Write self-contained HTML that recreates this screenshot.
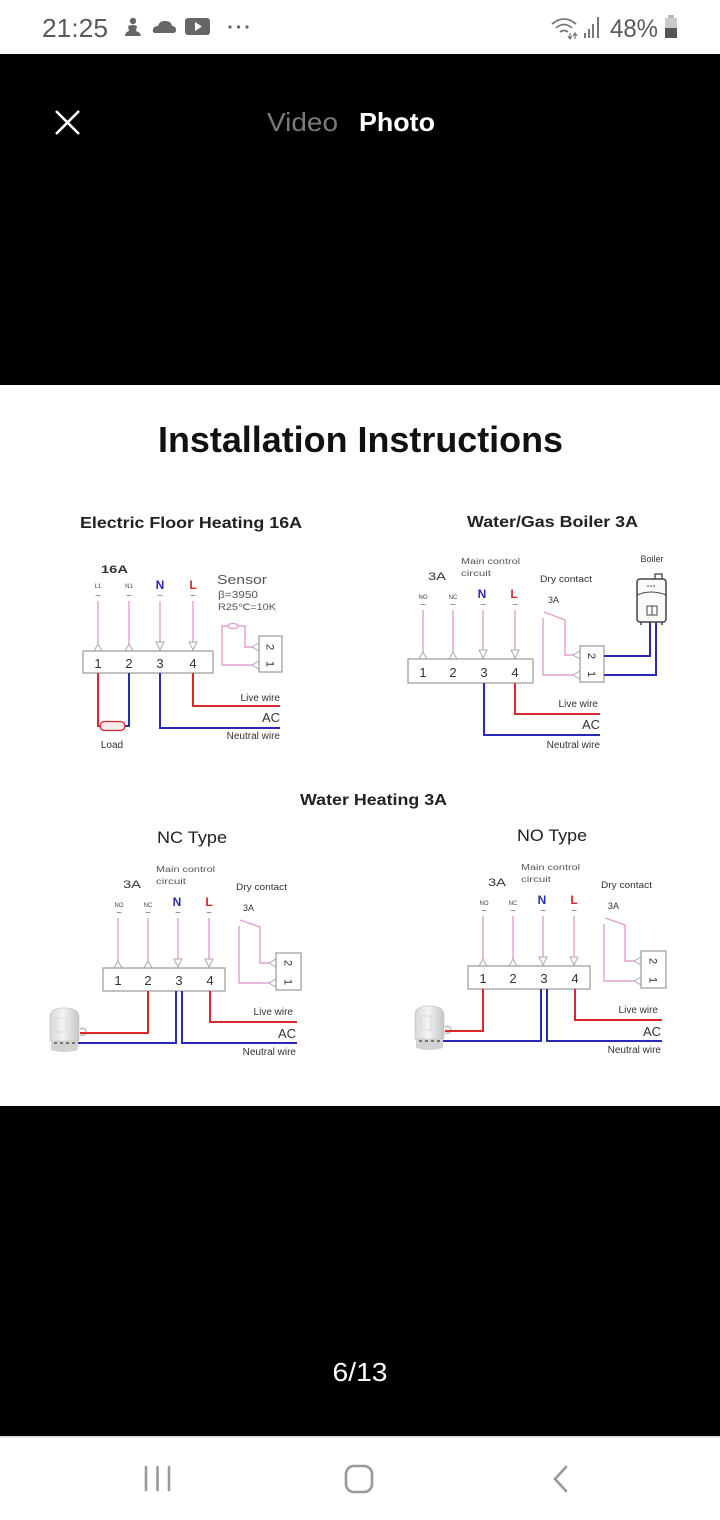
<!DOCTYPE html>
<html><head><meta charset="utf-8"><style>
html,body{margin:0;padding:0;background:#fff;}
svg{display:block;}
</style></head><body>
<svg width="720" height="1520" viewBox="0 0 720 1520" xmlns="http://www.w3.org/2000/svg" font-family="'Liberation Sans', Arial, sans-serif">
<defs>
<linearGradient id="act" x1="0" y1="0" x2="1" y2="0">
<stop offset="0" stop-color="#d8d8d8"/><stop offset="0.45" stop-color="#f4f4f4"/><stop offset="1" stop-color="#c4c4c4"/>
</linearGradient>
</defs>
<!-- status bar -->
<rect x="0" y="0" width="720" height="54" fill="#fff"/>
<text x="42" y="37" font-size="26" fill="#5a5a5a" textLength="66" lengthAdjust="spacingAndGlyphs">21:25</text>
<!-- person icon -->
<g fill="#666">
<circle cx="133" cy="21" r="3.2"/>
<path d="M128 26 Q133 24 137 26 L136 31 Q140 32 141 36 H125 Q125 32 129 31 Z"/>
</g>
<!-- cloud -->
<path d="M155 33 Q152 33 153 29 Q154 26 158 26 Q160 20 166 21 Q171 21 172 26 Q176 26 176 30 Q176 33 173 33 Z" fill="#666"/>
<!-- youtube -->
<rect x="185" y="18" width="25" height="17" rx="3" fill="#666"/>
<path d="M195 22 L202 26.5 L195 31 Z" fill="#fff"/>
<circle cx="230" cy="27" r="1.6" fill="#666"/><circle cx="238.5" cy="27" r="1.6" fill="#666"/><circle cx="247" cy="27" r="1.6" fill="#666"/>
<!-- wifi -->
<g fill="none" stroke="#777" stroke-width="1.8">
<path d="M552 24 Q564 14 576 24"/><path d="M556 28 Q564 21 572 28"/><path d="M560 32 Q564 29 568 32"/>
</g>
<path d="M570 33 V39 M568 36 L570 39 L572 36 M575 39 V33 M573 36 L575 33 L577 36" stroke="#777" stroke-width="1.2" fill="none"/>
<rect x="584" y="33" width="2" height="5" fill="#777"/><rect x="588" y="29" width="2" height="9" fill="#777"/><rect x="592" y="24" width="2" height="14" fill="#777"/><rect x="597" y="17" width="2" height="21" fill="#777"/>
<text x="610" y="37" font-size="25" fill="#5a5a5a" textLength="48" lengthAdjust="spacingAndGlyphs">48%</text>
<rect x="668" y="15" width="6" height="3" fill="#bbb"/>
<rect x="665" y="18" width="12" height="10" fill="#c8c8c8"/>
<rect x="665" y="28" width="12" height="10" fill="#555"/>

<!-- black top -->
<rect x="0" y="54" width="720" height="331" fill="#000"/>
<path d="M56 111 L79 134 M79 111 L56 134" stroke="#fff" stroke-width="2.6"/>
<text x="267" y="131" font-size="26" fill="#7a7a7a" textLength="71" lengthAdjust="spacingAndGlyphs">Video</text>
<text x="359" y="131" font-size="26" font-weight="bold" fill="#fff" textLength="76" lengthAdjust="spacingAndGlyphs">Photo</text>

<!-- white image -->
<rect x="0" y="385" width="720" height="721" fill="#fff"/>
<text x="158" y="452" font-size="36" font-weight="bold" fill="#111" textLength="405" lengthAdjust="spacingAndGlyphs">Installation Instructions</text>

<!-- ============ Diagram 1 ============ -->
<text x="80" y="528" font-size="16" font-weight="bold" fill="#222" textLength="222" lengthAdjust="spacingAndGlyphs">Electric Floor Heating 16A</text>
<text x="101" y="573" font-size="11" font-weight="bold" fill="#333" textLength="27" lengthAdjust="spacingAndGlyphs">16A</text>
<g font-size="6" fill="#444" text-anchor="middle">
<text x="98" y="588">L1</text><text x="129" y="588">N1</text>
</g>
<text x="160" y="589" font-size="12" font-weight="bold" fill="#2a2ab5" text-anchor="middle">N</text>
<text x="193" y="589" font-size="12" font-weight="bold" fill="#d62a2a" text-anchor="middle">L</text>
<g font-size="10" fill="#666" text-anchor="middle">
<text x="98" y="599">~</text><text x="129" y="599">~</text><text x="160" y="599">~</text><text x="193" y="599">~</text>
</g>
<g stroke="#e39fd3" stroke-width="1.4">
<line x1="98" y1="601" x2="98" y2="645"/><line x1="129" y1="601" x2="129" y2="645"/>
<line x1="160" y1="601" x2="160" y2="642"/><line x1="193" y1="601" x2="193" y2="642"/>
</g>
<g fill="#fff" stroke="#aaa" stroke-width="1">
<polygon points="94,651 98,644 102,651"/><polygon points="125,651 129,644 133,651"/>
<polygon points="156,642 164,642 160,650"/><polygon points="189,642 197,642 193,650"/>
</g>
<rect x="83" y="651" width="130" height="22" fill="#fff" stroke="#999" stroke-width="1.2"/>
<g font-size="13" fill="#333" text-anchor="middle">
<text x="98" y="668">1</text><text x="129" y="668">2</text><text x="160" y="668">3</text><text x="193" y="668">4</text>
</g>
<g fill="none" stroke-width="2">
<path d="M98 673 V726 H100" stroke="#d62a2a"/>
<path d="M129 673 V726 H125" stroke="#2a2ab5"/>
<path d="M160 673 V728 H280" stroke="#2a2ab5"/>
<path d="M193 673 V706 H280" stroke="#d62a2a"/>
</g>
<rect x="100" y="721.5" width="25" height="9" rx="4.5" fill="#fbeaea" stroke="#d62a2a" stroke-width="1.3"/>
<text x="112" y="748" font-size="10" fill="#333" text-anchor="middle">Load</text>
<g fill="#333" text-anchor="end">
<text x="280" y="701" font-size="10">Live wire</text>
<text x="280" y="722" font-size="13">AC</text>
<text x="280" y="739" font-size="10">Neutral wire</text>
</g>
<text x="217" y="584" font-size="13" fill="#555" textLength="50" lengthAdjust="spacingAndGlyphs">Sensor</text>
<text x="218" y="598" font-size="10" fill="#555" textLength="40" lengthAdjust="spacingAndGlyphs">β=3950</text>
<text x="218" y="610" font-size="9" fill="#555" textLength="58" lengthAdjust="spacingAndGlyphs">R25℃=10K</text>
<g fill="none" stroke="#e39fd3" stroke-width="1.4">
<path d="M228 626 H222 V665 H253"/>
<path d="M238 626 H245 V647 H253"/>
<ellipse cx="233" cy="626" rx="5" ry="2.6" fill="#fff"/>
</g>
<g fill="#fff" stroke="#aaa" stroke-width="1">
<polygon points="252,647 259,643 259,651"/><polygon points="252,665 259,661 259,669"/>
</g>
<rect x="259" y="636" width="23" height="36" fill="#fff" stroke="#999" stroke-width="1.2"/>
<g font-size="11" fill="#333" text-anchor="middle">
<text transform="translate(270.5 647) rotate(90)" y="4">2</text>
<text transform="translate(270.5 664) rotate(90)" y="4">1</text>
</g>

<!-- ============ Diagram 2 ============ -->
<text x="467" y="527" font-size="16" font-weight="bold" fill="#222" textLength="171" lengthAdjust="spacingAndGlyphs">Water/Gas Boiler 3A</text>
<text x="461" y="564" font-size="8" fill="#555" textLength="59" lengthAdjust="spacingAndGlyphs">Main control</text>
<text x="461" y="576" font-size="8" fill="#555" textLength="30" lengthAdjust="spacingAndGlyphs">circuit</text>
<text x="428" y="580" font-size="11" fill="#333" textLength="18" lengthAdjust="spacingAndGlyphs">3A</text>
<g font-size="6" fill="#444" text-anchor="middle">
<text x="423" y="599">NO</text><text x="453" y="599">NC</text>
</g>
<text x="482" y="598" font-size="12" font-weight="bold" fill="#2a2ab5" text-anchor="middle">N</text>
<text x="514" y="598" font-size="12" font-weight="bold" fill="#d62a2a" text-anchor="middle">L</text>
<g font-size="10" fill="#666" text-anchor="middle">
<text x="423" y="608">~</text><text x="453" y="608">~</text><text x="483" y="608">~</text><text x="515" y="608">~</text>
</g>
<g stroke="#e39fd3" stroke-width="1.4">
<line x1="423" y1="610" x2="423" y2="652"/><line x1="453" y1="610" x2="453" y2="652"/>
<line x1="483" y1="610" x2="483" y2="650"/><line x1="515" y1="610" x2="515" y2="650"/>
</g>
<g fill="#fff" stroke="#aaa" stroke-width="1">
<polygon points="419,659 423,652 427,659"/><polygon points="449,659 453,652 457,659"/>
<polygon points="479,650 487,650 483,658"/><polygon points="511,650 519,650 515,658"/>
</g>
<rect x="408" y="659" width="125" height="24" fill="#fff" stroke="#999" stroke-width="1.2"/>
<g font-size="13" fill="#333" text-anchor="middle">
<text x="423" y="677">1</text><text x="453" y="677">2</text><text x="484" y="677">3</text><text x="515" y="677">4</text>
</g>
<g fill="none" stroke-width="2">
<path d="M484 683 V735 H600" stroke="#2a2ab5"/>
<path d="M515 683 V714 H600" stroke="#d62a2a"/>
</g>
<g fill="#333" text-anchor="end">
<text x="598" y="707" font-size="10">Live wire</text>
<text x="600" y="729" font-size="13">AC</text>
<text x="600" y="748" font-size="10">Neutral wire</text>
</g>
<text x="540" y="582" font-size="9" fill="#333" textLength="52" lengthAdjust="spacingAndGlyphs">Dry contact</text>
<text x="548" y="603" font-size="9" fill="#333">3A</text>
<g fill="none" stroke="#e39fd3" stroke-width="1.4">
<path d="M544 612 L565 620 V655 H573"/>
<path d="M543 618 V675 H573"/>
</g>
<g fill="#fff" stroke="#aaa" stroke-width="1">
<polygon points="573,655 580,651 580,659"/><polygon points="573,675 580,671 580,679"/>
</g>
<rect x="580" y="646" width="24" height="36" fill="#fff" stroke="#999" stroke-width="1.2"/>
<g font-size="11" fill="#333" text-anchor="middle">
<text transform="translate(592 656) rotate(90)" y="4">2</text>
<text transform="translate(592 674) rotate(90)" y="4">1</text>
</g>
<g fill="none" stroke="#2a2ab5" stroke-width="2">
<path d="M604 656 H650 V622"/>
<path d="M604 675 H656 V622"/>
</g>
<text x="652" y="562" font-size="9" fill="#333" text-anchor="middle">Boiler</text>
<rect x="655" y="574" width="7" height="6" fill="#fff" stroke="#444" stroke-width="1.3"/>
<rect x="637" y="579" width="29" height="43" rx="3" fill="#fafafa" stroke="#444" stroke-width="1.5"/>
<path d="M637 595 Q651 589 666 595" stroke="#444" stroke-width="1" fill="none"/>
<circle cx="648" cy="586" r="0.8" fill="#444"/><circle cx="651" cy="586" r="0.8" fill="#444"/><circle cx="654" cy="586" r="0.8" fill="#444"/>
<rect x="647" y="606" width="10" height="9" fill="#fff" stroke="#444" stroke-width="1"/>
<line x1="652" y1="606" x2="652" y2="615" stroke="#444" stroke-width="1"/>
<path d="M641 622 V625 M662 622 V625" stroke="#444" stroke-width="1.5"/>

<!-- ============ Water Heating ============ -->
<text x="300" y="805" font-size="16" font-weight="bold" fill="#222" textLength="147" lengthAdjust="spacingAndGlyphs">Water Heating 3A</text>

<!-- Diagram 3 NC -->
<text x="157" y="843" font-size="17" fill="#222" textLength="70" lengthAdjust="spacingAndGlyphs">NC Type</text>
<g id="d3">
<text x="156" y="872" font-size="8" fill="#555" textLength="59" lengthAdjust="spacingAndGlyphs">Main control</text>
<text x="156" y="884" font-size="8" fill="#555" textLength="30" lengthAdjust="spacingAndGlyphs">circuit</text>
<text x="123" y="888" font-size="11" fill="#333" textLength="18" lengthAdjust="spacingAndGlyphs">3A</text>
<g font-size="6" fill="#444" text-anchor="middle">
<text x="119" y="907">NO</text><text x="148" y="907">NC</text>
</g>
<text x="177" y="906" font-size="12" font-weight="bold" fill="#2a2ab5" text-anchor="middle">N</text>
<text x="209" y="906" font-size="12" font-weight="bold" fill="#d62a2a" text-anchor="middle">L</text>
<g font-size="10" fill="#666" text-anchor="middle">
<text x="119" y="916">~</text><text x="148" y="916">~</text><text x="178" y="916">~</text><text x="209" y="916">~</text>
</g>
<g stroke="#e39fd3" stroke-width="1.4">
<line x1="118" y1="918" x2="118" y2="961"/><line x1="148" y1="918" x2="148" y2="961"/>
<line x1="178" y1="918" x2="178" y2="959"/><line x1="209" y1="918" x2="209" y2="959"/>
</g>
<g fill="#fff" stroke="#aaa" stroke-width="1">
<polygon points="114,968 118,961 122,968"/><polygon points="144,968 148,961 152,968"/>
<polygon points="174,959 182,959 178,967"/><polygon points="205,959 213,959 209,967"/>
</g>
<rect x="103" y="968" width="122" height="23" fill="#fff" stroke="#999" stroke-width="1.2"/>
<g font-size="13" fill="#333" text-anchor="middle">
<text x="118" y="985">1</text><text x="148" y="985">2</text><text x="179" y="985">3</text><text x="210" y="985">4</text>
</g>
<g fill="none" stroke-width="2">
<path d="M176 991 V1043 H78" stroke="#2a2ab5"/>
<path d="M182 991 V1043 H297" stroke="#2a2ab5"/>
<path d="M210 991 V1022 H297" stroke="#d62a2a"/>
</g>
<g fill="#333" text-anchor="end">
<text x="293" y="1015" font-size="10">Live wire</text>
<text x="296" y="1038" font-size="13">AC</text>
<text x="296" y="1055" font-size="10">Neutral wire</text>
</g>
<text x="236" y="890" font-size="9" fill="#333" textLength="51" lengthAdjust="spacingAndGlyphs">Dry contact</text>
<text x="243" y="911" font-size="9" fill="#333">3A</text>
<g fill="none" stroke="#e39fd3" stroke-width="1.4">
<path d="M240 920 L260 927 V963 H269"/>
<path d="M239 926 V983 H269"/>
</g>
<g fill="#fff" stroke="#aaa" stroke-width="1">
<polygon points="269,963 276,959 276,967"/><polygon points="269,983 276,979 276,987"/>
</g>
<rect x="276" y="953" width="25" height="37" fill="#fff" stroke="#999" stroke-width="1.2"/>
<g font-size="11" fill="#333" text-anchor="middle">
<text transform="translate(288.5 963) rotate(90)" y="4">2</text>
<text transform="translate(288.5 982) rotate(90)" y="4">1</text>
</g>
<!-- actuator -->
<g>
<path d="M80 1029 q6 -2 6 3 q0 4 -6 3" fill="none" stroke="#bbb" stroke-width="1.5"/>
<path d="M50 1017 Q50 1008 64 1008 Q79 1008 79 1017 V1041 H50 Z" fill="url(#act)" stroke="#c8c8c8" stroke-width="0.8"/>
<rect x="56" y="1018" width="10" height="14" fill="none" stroke="#d0d0d0" stroke-width="0.6"/>
<path d="M51 1041 H78 V1050 Q64 1054 51 1050 Z" fill="#d2d2d2"/>
<path d="M54 1043 h3 M60 1043 h3 M66 1043 h3 M72 1043 h3" stroke="#555" stroke-width="1.6"/>
</g>
</g>
<path d="M148 991 V1033 H80" fill="none" stroke="#d62a2a" stroke-width="2"/>

<!-- Diagram 4 NO -->
<text x="517" y="841" font-size="17" fill="#222" textLength="70" lengthAdjust="spacingAndGlyphs">NO Type</text>
<use href="#d3" transform="translate(365 -2)"/>
<path d="M483 989 V1031 H445" fill="none" stroke="#d62a2a" stroke-width="2"/>

<!-- black bottom -->
<rect x="0" y="1106" width="720" height="330" fill="#000"/>
<text x="360" y="1381" font-size="26" fill="#fff" text-anchor="middle" textLength="55" lengthAdjust="spacingAndGlyphs">6/13</text>

<!-- nav bar -->
<rect x="0" y="1436" width="720" height="84" fill="#fff"/>
<rect x="0" y="1436" width="720" height="1.5" fill="#d6d6d6"/>
<g stroke="#999" stroke-width="2.6" stroke-linecap="round" fill="none">
<path d="M146 1467 V1490 M157.5 1467 V1490 M169 1467 V1490"/>
<rect x="346" y="1466" width="26" height="26" rx="8"/>
<path d="M566 1467 L555 1479 L566 1491"/>
</g>
</svg>
</body></html>
